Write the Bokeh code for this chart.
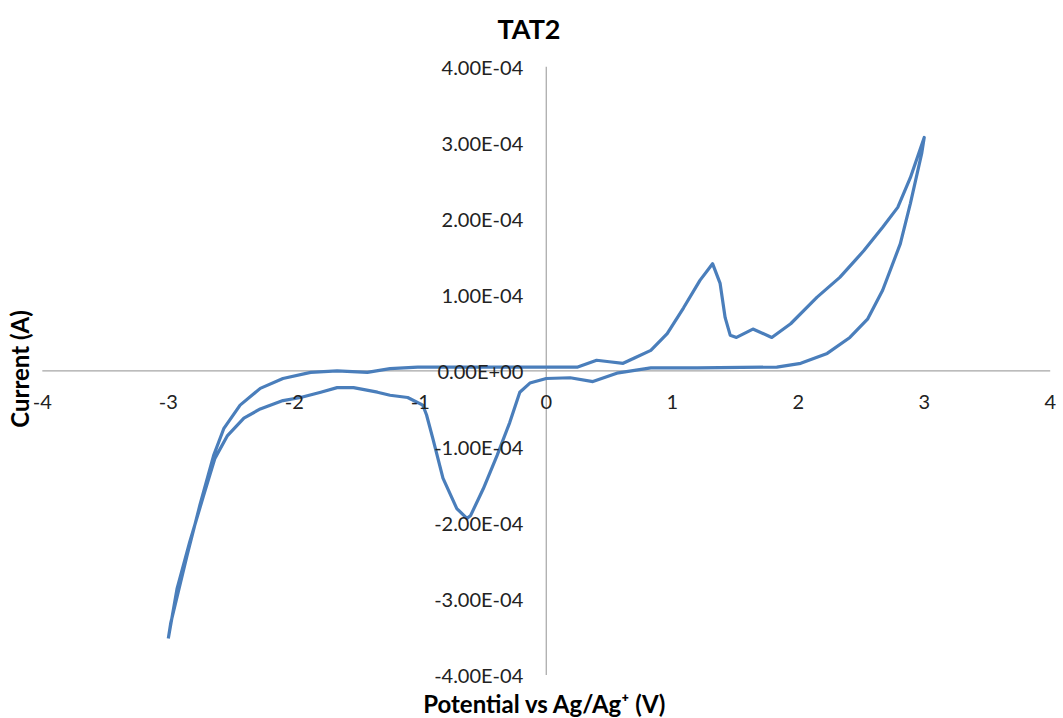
from bokeh.plotting import figure
from bokeh.models import FixedTicker, CustomJSTickFormatter, Title, Range1d
from bokeh.embed import file_html
from bokeh.resources import INLINE

# ---- data ----
# forward scan: -3 V -> +3 V
fwd_potential = [-3.00, -2.98, -2.85, -2.75, -2.64, -2.56, -2.43, -2.27, -2.09, -1.87,
                 -1.66, -1.42, -1.24, -1.02, -0.50, 0.00, 0.25, 0.40, 0.50, 0.61,
                 0.70, 0.83, 0.96, 1.09, 1.22, 1.32, 1.38, 1.42, 1.46, 1.51,
                 1.64, 1.79, 1.94, 2.15, 2.33, 2.45, 2.52, 2.67, 2.79, 2.89, 3.00]
fwd_current = [-3.52e-4, -3.31e-4, -2.42e-4, -1.77e-4, -1.11e-4, -0.76e-4, -0.45e-4, -0.23e-4, -0.10e-4, -0.02e-4,
               0.00e-4, -0.02e-4, 0.03e-4, 0.05e-4, 0.05e-4, 0.05e-4, 0.05e-4, 0.14e-4, 0.12e-4, 0.10e-4,
               0.17e-4, 0.27e-4, 0.49e-4, 0.83e-4, 1.19e-4, 1.41e-4, 1.15e-4, 0.70e-4, 0.47e-4, 0.44e-4,
               0.55e-4, 0.44e-4, 0.62e-4, 0.97e-4, 1.23e-4, 1.45e-4, 1.58e-4, 1.89e-4, 2.15e-4, 2.54e-4, 3.07e-4]
# reverse scan: +3 V -> -3 V
rev_potential = [2.98, 2.89, 2.81, 2.67, 2.55, 2.41, 2.23, 2.02, 1.83, 1.20,
                 0.83, 0.56, 0.37, 0.19, 0.00, -0.13, -0.21, -0.29, -0.39, -0.50,
                 -0.60, -0.63, -0.71, -0.82, -0.90, -0.95, -0.98, -1.10, -1.24, -1.34,
                 -1.53, -1.66, -1.79, -1.95, -2.09, -2.27, -2.40, -2.53, -2.63, -2.72,
                 -2.83, -2.93, -3.00]
rev_current = [2.86e-4, 2.20e-4, 1.67e-4, 1.06e-4, 0.68e-4, 0.44e-4, 0.23e-4, 0.10e-4, 0.05e-4, 0.04e-4,
               0.04e-4, -0.03e-4, -0.14e-4, -0.09e-4, -0.10e-4, -0.16e-4, -0.28e-4, -0.68e-4, -1.11e-4, -1.55e-4,
               -1.90e-4, -1.94e-4, -1.81e-4, -1.41e-4, -0.89e-4, -0.58e-4, -0.45e-4, -0.35e-4, -0.32e-4, -0.28e-4,
               -0.22e-4, -0.22e-4, -0.28e-4, -0.35e-4, -0.39e-4, -0.50e-4, -0.62e-4, -0.85e-4, -1.15e-4, -1.64e-4,
               -2.25e-4, -2.86e-4, -3.52e-4]

x_ticks = [-4, -3, -2, -1, 0, 1, 2, 3, 4]
y_ticks = [-4e-4, -3e-4, -2e-4, -1e-4, 0.0, 1e-4, 2e-4, 3e-4, 4e-4]

chart_title = "TAT2"
x_title = "Potential vs Ag/Ag\u207a (V)"
y_title = "Current (A)"

FONT = "Lato, 'Open Sans', sans-serif"
AXIS_GRAY = "#a6a6a6"

# small padding around the axis extents so the end tick labels are not clipped
p = figure(frame_width=1023, frame_height=635,
           min_border_left=33, min_border_right=5, min_border_top=51, min_border_bottom=32,
           output_backend="svg", toolbar_location=None,
           x_range=Range1d(-4.07, 4.05), y_range=Range1d(-4.15e-4, 4.2e-4))

p.title = Title(text=chart_title, align="left", offset=464, text_font=FONT, text_font_size="27px",
                text_font_style="bold", text_color="#000000", standoff=13)
p.add_layout(Title(text=y_title, align="center", text_font=FONT, text_font_size="24px",
                   text_font_style="bold", text_color="#000000", standoff=0), "left")
p.add_layout(Title(text=x_title, align="center", text_font=FONT, text_font_size="24px",
                   text_font_style="bold", text_color="#000000", standoff=1), "below")

# axis lines spanning exactly the axis extents (Excel-style crossing at zero)
p.segment(x0=[x_ticks[0], 0], y0=[0, y_ticks[0]], x1=[x_ticks[-1], 0], y1=[0, y_ticks[-1]],
          line_color=AXIS_GRAY, line_width=1.2)

p.line(fwd_potential + rev_potential, fwd_current + rev_current,
       line_color="#4a7ebb", line_width=3.2, line_join="round")

p.xgrid.visible = False
p.ygrid.visible = False
p.outline_line_color = None
p.background_fill_color = "white"
p.border_fill_color = "white"

yfmt = CustomJSTickFormatter(code="""
const s = tick.toExponential(2).toUpperCase();
const parts = s.split('E');
const e = parts[1];
const sign = (e[0] === '-') ? '-' : '+';
const d = e.replace('+', '').replace('-', '').padStart(2, '0');
return parts[0] + 'E' + sign + d;
""")
xfmt = CustomJSTickFormatter(code="return String(Math.round(tick));")

for ax in (p.xaxis[0], p.yaxis[0]):
    ax.fixed_location = 0
    ax.axis_line_color = None
    ax.major_tick_in = 0
    ax.major_tick_out = 0
    ax.minor_tick_in = 0
    ax.minor_tick_out = 0
    ax.major_label_text_font = FONT
    ax.major_label_text_font_size = "20px"
    ax.major_label_text_color = "#222222"

p.xaxis[0].ticker = FixedTicker(ticks=x_ticks)
p.yaxis[0].ticker = FixedTicker(ticks=y_ticks)
p.xaxis[0].formatter = xfmt
p.yaxis[0].formatter = yfmt
p.xaxis[0].major_label_standoff = 24
p.yaxis[0].major_label_standoff = 23

open("out.html", "w").write(file_html(p, INLINE))
